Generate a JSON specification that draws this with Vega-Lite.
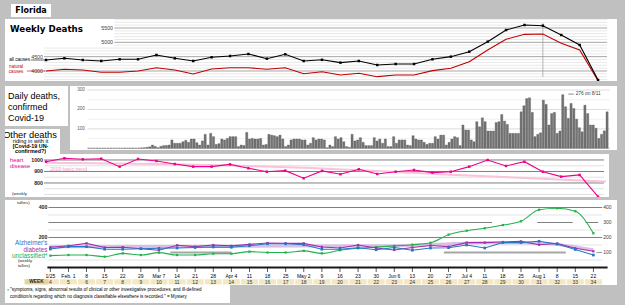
{
"$schema":"https://vega.github.io/schema/vega-lite/v6.json",
"background":"#c0c0c0",
"padding":{"left":5,"top":4,"right":8,"bottom":2},
"spacing":0,
"config":{"view":{"stroke":null},"font":"Liberation Sans"},
"datasets":{
"weekly":[
{"date":"2020-01-25","week":4,"label":"1/25","all":4384,"natural":4000,"heart":985,"alz":123,"diab":135,"uncl":79},
{"date":"2020-02-01","week":5,"label":"Feb. 1","all":4442,"natural":4059,"heart":1015,"alz":139,"diab":145,"uncl":83},
{"date":"2020-02-08","week":6,"label":"8","all":4384,"natural":4035,"heart":1006,"alz":139,"diab":161,"uncl":83},
{"date":"2020-02-15","week":7,"label":"15","all":4349,"natural":3955,"heart":1011,"alz":122,"diab":133,"uncl":72},
{"date":"2020-02-22","week":8,"label":"22","all":4408,"natural":3955,"heart":942,"alz":122,"diab":135,"uncl":94},
{"date":"2020-02-29","week":9,"label":"29","all":4408,"natural":4000,"heart":1009,"alz":125,"diab":125,"uncl":83},
{"date":"2020-03-07","week":10,"label":"Mar 7","all":4558,"natural":4115,"heart":991,"alz":128,"diab":115,"uncl":99},
{"date":"2020-03-14","week":11,"label":"14","all":4442,"natural":4035,"heart":965,"alz":130,"diab":148,"uncl":83},
{"date":"2020-03-21","week":12,"label":"21","all":4349,"natural":3895,"heart":942,"alz":133,"diab":139,"uncl":83},
{"date":"2020-03-28","week":13,"label":"28","all":4478,"natural":4070,"heart":942,"alz":137,"diab":150,"uncl":92},
{"date":"2020-04-04","week":14,"label":"Apr 4","all":4523,"natural":4115,"heart":962,"alz":135,"diab":144,"uncl":92},
{"date":"2020-04-11","week":15,"label":"11","all":4593,"natural":4115,"heart":928,"alz":145,"diab":154,"uncl":106},
{"date":"2020-04-18","week":16,"label":"18","all":4430,"natural":4059,"heart":898,"alz":158,"diab":163,"uncl":100},
{"date":"2020-04-25","week":17,"label":"25","all":4582,"natural":4115,"heart":907,"alz":158,"diab":161,"uncl":100},
{"date":"2020-05-02","week":18,"label":"May 2","all":4349,"natural":3905,"heart":841,"alz":152,"diab":161,"uncl":111},
{"date":"2020-05-09","week":19,"label":"9","all":4390,"natural":3976,"heart":905,"alz":122,"diab":137,"uncl":94},
{"date":"2020-05-16","week":20,"label":"16","all":4291,"natural":3860,"heart":876,"alz":122,"diab":130,"uncl":115},
{"date":"2020-05-23","week":21,"label":"23","all":4349,"natural":3919,"heart":919,"alz":132,"diab":150,"uncl":128},
{"date":"2020-05-30","week":22,"label":"30","all":4209,"natural":3802,"heart":878,"alz":118,"diab":130,"uncl":136},
{"date":"2020-06-06","week":23,"label":"Jun 6","all":4244,"natural":3860,"heart":898,"alz":133,"diab":117,"uncl":144},
{"date":"2020-06-13","week":24,"label":"13","all":4244,"natural":3860,"heart":913,"alz":115,"diab":133,"uncl":152},
{"date":"2020-06-20","week":25,"label":"20","all":4408,"natural":4012,"heart":890,"alz":130,"diab":147,"uncl":165},
{"date":"2020-06-27","week":26,"label":"27","all":4500,"natural":4093,"heart":898,"alz":132,"diab":139,"uncl":219},
{"date":"2020-07-04","week":27,"label":"Jul 4","all":4674,"natural":4326,"heart":942,"alz":150,"diab":166,"uncl":245},
{"date":"2020-07-11","week":28,"label":"11","all":5023,"natural":4732,"heart":1000,"alz":130,"diab":166,"uncl":262},
{"date":"2020-07-18","week":29,"label":"18","all":5430,"natural":5105,"heart":948,"alz":166,"diab":170,"uncl":283},
{"date":"2020-07-25","week":30,"label":"25","all":5605,"natural":5279,"heart":985,"alz":166,"diab":174,"uncl":308},
{"date":"2020-08-01","week":31,"label":"Aug 1","all":5581,"natural":5291,"heart":898,"alz":175,"diab":152,"uncl":385},
{"date":"2020-08-08","week":32,"label":"8","all":5256,"natural":4965,"heart":855,"alz":156,"diab":160,"uncl":395},
{"date":"2020-08-15","week":33,"label":"15","all":4907,"natural":4732,"heart":870,"alz":120,"diab":128,"uncl":375},
{"date":"2020-08-22","week":34,"label":"22","all":3686,"natural":3660,"heart":681,"alz":83,"diab":108,"uncl":228}
],
"heartTrend":[
{"date":"2020-01-25","v":975},{"date":"2020-03-07","v":965},{"date":"2020-05-02","v":932},{"date":"2020-06-27","v":872},{"date":"2020-08-25","v":812}
],
"diabTrend":[
{"date":"2020-01-25","v":138},{"date":"2020-04-04","v":142},{"date":"2020-06-06","v":145},{"date":"2020-07-11","v":165},{"date":"2020-08-01","v":162},{"date":"2020-08-22","v":118}
],
"daily":[
{"date":"2020-02-22","deaths":0},{"date":"2020-02-23","deaths":0},{"date":"2020-02-24","deaths":0},{"date":"2020-02-25","deaths":0},{"date":"2020-02-26","deaths":0},{"date":"2020-02-27","deaths":0},{"date":"2020-02-28","deaths":0},{"date":"2020-02-29","deaths":0},
{"date":"2020-03-01","deaths":0},{"date":"2020-03-02","deaths":0},{"date":"2020-03-03","deaths":0},{"date":"2020-03-04","deaths":0},{"date":"2020-03-05","deaths":0},{"date":"2020-03-06","deaths":1},{"date":"2020-03-07","deaths":0},{"date":"2020-03-08","deaths":1},{"date":"2020-03-09","deaths":1},{"date":"2020-03-10","deaths":0},{"date":"2020-03-11","deaths":1},{"date":"2020-03-12","deaths":2},{"date":"2020-03-13","deaths":3},{"date":"2020-03-14","deaths":5},{"date":"2020-03-15","deaths":8},{"date":"2020-03-16","deaths":17},{"date":"2020-03-17","deaths":10},{"date":"2020-03-18","deaths":3},{"date":"2020-03-19","deaths":10},{"date":"2020-03-20","deaths":14},{"date":"2020-03-21","deaths":15},{"date":"2020-03-22","deaths":17},{"date":"2020-03-23","deaths":43},{"date":"2020-03-24","deaths":26},{"date":"2020-03-25","deaths":26},{"date":"2020-03-26","deaths":26},{"date":"2020-03-27","deaths":34},{"date":"2020-03-28","deaths":41},{"date":"2020-03-29","deaths":31},{"date":"2020-03-30","deaths":48},{"date":"2020-03-31","deaths":48},
{"date":"2020-04-01","deaths":29},{"date":"2020-04-02","deaths":17},{"date":"2020-04-03","deaths":38},{"date":"2020-04-04","deaths":72},{"date":"2020-04-05","deaths":17},{"date":"2020-04-06","deaths":77},{"date":"2020-04-07","deaths":60},{"date":"2020-04-08","deaths":20},{"date":"2020-04-09","deaths":24},{"date":"2020-04-10","deaths":48},{"date":"2020-04-11","deaths":43},{"date":"2020-04-12","deaths":51},{"date":"2020-04-13","deaths":60},{"date":"2020-04-14","deaths":60},{"date":"2020-04-15","deaths":60},{"date":"2020-04-16","deaths":9},{"date":"2020-04-17","deaths":17},{"date":"2020-04-18","deaths":14},{"date":"2020-04-19","deaths":82},{"date":"2020-04-20","deaths":48},{"date":"2020-04-21","deaths":51},{"date":"2020-04-22","deaths":48},{"date":"2020-04-23","deaths":48},{"date":"2020-04-24","deaths":51},{"date":"2020-04-25","deaths":17},{"date":"2020-04-26","deaths":20},{"date":"2020-04-27","deaths":72},{"date":"2020-04-28","deaths":68},{"date":"2020-04-29","deaths":65},{"date":"2020-04-30","deaths":60},
{"date":"2020-05-01","deaths":68},{"date":"2020-05-02","deaths":48},{"date":"2020-05-03","deaths":9},{"date":"2020-05-04","deaths":17},{"date":"2020-05-05","deaths":43},{"date":"2020-05-06","deaths":48},{"date":"2020-05-07","deaths":48},{"date":"2020-05-08","deaths":48},{"date":"2020-05-09","deaths":43},{"date":"2020-05-10","deaths":43},{"date":"2020-05-11","deaths":17},{"date":"2020-05-12","deaths":26},{"date":"2020-05-13","deaths":55},{"date":"2020-05-14","deaths":43},{"date":"2020-05-15","deaths":48},{"date":"2020-05-16","deaths":48},{"date":"2020-05-17","deaths":43},{"date":"2020-05-18","deaths":3},{"date":"2020-05-19","deaths":17},{"date":"2020-05-20","deaths":9},{"date":"2020-05-21","deaths":60},{"date":"2020-05-22","deaths":48},{"date":"2020-05-23","deaths":55},{"date":"2020-05-24","deaths":34},{"date":"2020-05-25","deaths":9},{"date":"2020-05-26","deaths":5},{"date":"2020-05-27","deaths":72},{"date":"2020-05-28","deaths":38},{"date":"2020-05-29","deaths":43},{"date":"2020-05-30","deaths":55},{"date":"2020-05-31","deaths":31},
{"date":"2020-06-01","deaths":14},{"date":"2020-06-02","deaths":14},{"date":"2020-06-03","deaths":14},{"date":"2020-06-04","deaths":55},{"date":"2020-06-05","deaths":38},{"date":"2020-06-06","deaths":48},{"date":"2020-06-07","deaths":26},{"date":"2020-06-08","deaths":48},{"date":"2020-06-09","deaths":9},{"date":"2020-06-10","deaths":9},{"date":"2020-06-11","deaths":60},{"date":"2020-06-12","deaths":26},{"date":"2020-06-13","deaths":43},{"date":"2020-06-14","deaths":43},{"date":"2020-06-15","deaths":43},{"date":"2020-06-16","deaths":17},{"date":"2020-06-17","deaths":14},{"date":"2020-06-18","deaths":65},{"date":"2020-06-19","deaths":48},{"date":"2020-06-20","deaths":43},{"date":"2020-06-21","deaths":43},{"date":"2020-06-22","deaths":31},{"date":"2020-06-23","deaths":20},{"date":"2020-06-24","deaths":26},{"date":"2020-06-25","deaths":26},{"date":"2020-06-26","deaths":60},{"date":"2020-06-27","deaths":48},{"date":"2020-06-28","deaths":68},{"date":"2020-06-29","deaths":68},{"date":"2020-06-30","deaths":17},
{"date":"2020-07-01","deaths":31},{"date":"2020-07-02","deaths":48},{"date":"2020-07-03","deaths":60},{"date":"2020-07-04","deaths":55},{"date":"2020-07-05","deaths":14},{"date":"2020-07-06","deaths":120},{"date":"2020-07-07","deaths":94},{"date":"2020-07-08","deaths":94},{"date":"2020-07-09","deaths":43},{"date":"2020-07-10","deaths":34},{"date":"2020-07-11","deaths":137},{"date":"2020-07-12","deaths":111},{"date":"2020-07-13","deaths":157},{"date":"2020-07-14","deaths":137},{"date":"2020-07-15","deaths":89},{"date":"2020-07-16","deaths":89},{"date":"2020-07-17","deaths":89},{"date":"2020-07-18","deaths":133},{"date":"2020-07-19","deaths":137},{"date":"2020-07-20","deaths":174},{"date":"2020-07-21","deaths":140},{"date":"2020-07-22","deaths":123},{"date":"2020-07-23","deaths":77},{"date":"2020-07-24","deaths":77},{"date":"2020-07-25","deaths":77},{"date":"2020-07-26","deaths":77},{"date":"2020-07-27","deaths":188},{"date":"2020-07-28","deaths":219},{"date":"2020-07-29","deaths":256},{"date":"2020-07-30","deaths":260},{"date":"2020-07-31","deaths":185},
{"date":"2020-08-01","deaths":60},{"date":"2020-08-02","deaths":72},{"date":"2020-08-03","deaths":80},{"date":"2020-08-04","deaths":248},{"date":"2020-08-05","deaths":226},{"date":"2020-08-06","deaths":120},{"date":"2020-08-07","deaths":179},{"date":"2020-08-08","deaths":185},{"date":"2020-08-09","deaths":77},{"date":"2020-08-10","deaths":89},{"date":"2020-08-11","deaths":276},{"date":"2020-08-12","deaths":214},{"date":"2020-08-13","deaths":154},{"date":"2020-08-14","deaths":231},{"date":"2020-08-15","deaths":205},{"date":"2020-08-16","deaths":150},{"date":"2020-08-17","deaths":106},{"date":"2020-08-18","deaths":85},{"date":"2020-08-19","deaths":222},{"date":"2020-08-20","deaths":179},{"date":"2020-08-21","deaths":120},{"date":"2020-08-22","deaths":120},{"date":"2020-08-23","deaths":103},{"date":"2020-08-24","deaths":51},{"date":"2020-08-25","deaths":72},{"date":"2020-08-26","deaths":90},{"date":"2020-08-27","deaths":188}
]
},
"vconcat":[
{"hconcat":[
 {"width":6,"height":13,"data":{"values":[]},"mark":{"type":"rect"},"encoding":{}},
 {"width":40,"height":13,"view":{"fill":"white"},"data":{"values":[{}]},"mark":{"type":"text","text":"Florida","font":"DejaVu Sans","fontWeight":"bold","fontSize":8,"color":"black","align":"center","baseline":"middle","clip":true},"encoding":{}}
],"spacing":0},
{"width":1,"height":2,"data":{"values":[]},"mark":{"type":"rect"},"encoding":{}},
{"width":612,"height":62,"view":{"fill":"white"},"layer":[
 {"data":{"values":[{"v":3700},{"v":3800},{"v":3900},{"v":4100},{"v":4200},{"v":4300},{"v":4400},{"v":4600},{"v":4700},{"v":4800}]},"mark":{"type":"rule","color":"#e2e2e2","strokeWidth":0.8},
  "encoding":{"x":{"datum":{"year":2020,"month":1,"date":24,"hours":6,"utc":true},"type":"temporal","scale":{"type":"utc","nice":false,"domain":[{"year":2020,"month":1,"date":9,"hours":9,"minutes":36,"utc":true},{"year":2020,"month":8,"date":29,"hours":4,"minutes":48,"utc":true}]},"axis":null},
  "x2":{"datum":{"year":2020,"month":8,"date":25,"hours":10,"utc":true}},
  "y":{"field":"v","type":"quantitative","scale":{"domain":[3651,5814],"nice":false,"zero":false},"axis":null}}},
 {"data":{"values":[{"v":4900},{"v":5100},{"v":5200},{"v":5300},{"v":5400},{"v":5600},{"v":5700},{"v":5800}]},"mark":{"type":"rule","color":"#e2e2e2","strokeWidth":0.8},
  "encoding":{"x":{"datum":{"year":2020,"month":2,"date":20,"utc":true},"type":"temporal","axis":null},"x2":{"datum":{"year":2020,"month":8,"date":25,"hours":10,"utc":true}},"y":{"field":"v","type":"quantitative","axis":null}}},
 {"data":{"values":[{"v":4000},{"v":4500}]},"mark":{"type":"rule","color":"#a6a6a6","strokeWidth":1},
  "encoding":{"x":{"datum":{"year":2020,"month":1,"date":24,"hours":6,"utc":true},"type":"temporal","axis":null},"x2":{"datum":{"year":2020,"month":8,"date":25,"hours":10,"utc":true}},"y":{"field":"v","type":"quantitative","axis":null}}},
 {"data":{"values":[{"v":5000},{"v":5500}]},"mark":{"type":"rule","color":"#a6a6a6","strokeWidth":1},
  "encoding":{"x":{"datum":{"year":2020,"month":2,"date":20,"utc":true},"type":"temporal","axis":null},"x2":{"datum":{"year":2020,"month":8,"date":25,"hours":10,"utc":true}},"y":{"field":"v","type":"quantitative","axis":null}}},
 {"data":{"values":[{}]},"mark":{"type":"rule","color":"#8c8c8c","strokeWidth":0.6},
  "encoding":{"x":{"datum":{"year":2020,"month":8,"date":1,"utc":true},"type":"temporal","axis":null},"y":{"datum":5674,"type":"quantitative","axis":null},"y2":{"datum":3791}}},
 {"data":{"name":"weekly"},"mark":{"type":"line","color":"#c00000","strokeWidth":1.1,"clip":true},
  "encoding":{"x":{"field":"date","type":"temporal","axis":null},"y":{"field":"natural","type":"quantitative","axis":null}}},
 {"data":{"name":"weekly"},"mark":{"type":"line","color":"#000000","strokeWidth":1.1,"clip":true,"point":{"filled":true,"size":6,"shape":"square","color":"#000000","clip":true}},
  "encoding":{"x":{"field":"date","type":"temporal","axis":null},"y":{"field":"all","type":"quantitative","axis":null}}},
 {"data":{"values":[{}]},"mark":{"type":"text","text":"Weekly Deaths","font":"DejaVu Sans","fontWeight":"bold","fontSize":8.7,"align":"left","baseline":"middle","color":"black"},
  "encoding":{"x":{"datum":{"year":2020,"month":1,"date":11,"hours":7,"utc":true},"type":"temporal","axis":null},"y":{"datum":5465,"type":"quantitative","axis":null}}},
 {"data":{"values":[{"v":5000},{"v":5500}]},"mark":{"type":"text","fontSize":5.3,"align":"right","baseline":"middle","color":"#404040"},
  "encoding":{"x":{"datum":{"year":2020,"month":2,"date":19,"hours":12,"utc":true},"type":"temporal","axis":null},"y":{"field":"v","type":"quantitative","axis":null},"text":{"field":"v","format":"d"}}},
 {"data":{"values":[{"v":4000},{"v":4500}]},"mark":{"type":"text","fontSize":5.3,"align":"right","baseline":"middle","color":"#404040"},
  "encoding":{"x":{"datum":{"year":2020,"month":1,"date":23,"hours":20,"minutes":37,"utc":true},"type":"temporal","axis":null},"y":{"field":"v","type":"quantitative","axis":null},"text":{"field":"v","format":"d"}}},
 {"data":{"values":[{}]},"mark":{"type":"text","text":"all causes","fontSize":4.7,"align":"right","baseline":"middle","color":"black"},
  "encoding":{"x":{"datum":{"year":2020,"month":1,"date":18,"hours":22,"utc":true},"type":"temporal","axis":null},"y":{"datum":4384,"type":"quantitative","axis":null}}},
 {"data":{"values":[{}]},"mark":{"type":"rule","color":"black","strokeWidth":0.6},
  "encoding":{"x":{"datum":{"year":2020,"month":1,"date":19,"hours":7,"utc":true},"type":"temporal","axis":null},"x2":{"datum":{"year":2020,"month":1,"date":24,"hours":15,"utc":true}},"y":{"datum":4384,"type":"quantitative","axis":null}}},
 {"data":{"values":[{}]},"mark":{"type":"text","text":["natural","causes"],"fontSize":4.5,"lineHeight":4.6,"align":"center","baseline":"middle","color":"#c00000"},
  "encoding":{"x":{"datum":{"year":2020,"month":1,"date":13,"hours":14,"utc":true},"type":"temporal","axis":null},"y":{"datum":4140,"type":"quantitative","axis":null}}},
 {"data":{"values":[{}]},"mark":{"type":"rule","color":"#c00000","strokeWidth":0.6},
  "encoding":{"x":{"datum":{"year":2020,"month":1,"date":17,"hours":18,"utc":true},"type":"temporal","axis":null},"x2":{"datum":{"year":2020,"month":1,"date":24,"hours":15,"utc":true}},"y":{"datum":4000,"type":"quantitative","axis":null}}}
]},
{"width":1,"height":5,"data":{"values":[]},"mark":{"type":"rect"},"encoding":{}},
{"hconcat":[
 {"vconcat":[
  {"width":63,"height":40,"view":{"fill":"white"},"data":{"values":[{}]},"mark":{"type":"text","text":["Daily deaths,","confirmed","Covid-19"],"fontSize":9,"lineHeight":11,"align":"left","baseline":"middle","dx":-28.5,"dy":-10.5,"color":"black","clip":true},"encoding":{}},
  {"width":55,"height":25,"view":{"fill":"white"},"data":{"values":[{}]},"layer":[
   {"mark":{"type":"text","text":"Other deaths","fontSize":9.3,"align":"center","baseline":"middle","dx":-2.5,"dy":-7,"color":"black","clip":true},"encoding":{}},
   {"mark":{"type":"text","text":"riding in with it","fontSize":5.6,"align":"center","baseline":"middle","dx":-2,"dy":-0.5,"color":"black","clip":true},"encoding":{}},
   {"mark":{"type":"text","text":["[Covid-19 UN-","confirmed?)"],"fontSize":5.4,"lineHeight":5,"fontWeight":"bold","align":"center","baseline":"middle","dx":-2,"dy":4.8,"color":"black","clip":true},"encoding":{}}
  ]}
 ],"spacing":3},
 {"width":547,"height":64,"view":{"fill":"white"},"layer":[
  {"data":{"values":[{"v":50},{"v":150},{"v":250}]},"mark":{"type":"rule","color":"#eeeeee","strokeWidth":0.8},
   "encoding":{"x":{"datum":{"year":2020,"month":2,"date":21,"hours":12,"utc":true},"type":"temporal","scale":{"type":"utc","nice":false,"domain":[{"year":2020,"month":2,"date":17,"hours":1,"utc":true},{"year":2020,"month":8,"date":28,"hours":18,"minutes":30,"utc":true}]},"axis":null},
   "x2":{"datum":{"year":2020,"month":8,"date":28,"utc":true}},
   "y":{"field":"v","type":"quantitative","scale":{"domain":[-8.7,320.6],"nice":false,"zero":false},"axis":null}}},
  {"data":{"values":[{"v":100},{"v":200},{"v":300}]},"mark":{"type":"rule","color":"#d9d9d9","strokeWidth":0.9},
   "encoding":{"x":{"datum":{"year":2020,"month":2,"date":21,"hours":12,"utc":true},"type":"temporal","axis":null},"x2":{"datum":{"year":2020,"month":8,"date":28,"utc":true}},"y":{"field":"v","type":"quantitative","axis":null}}},
  {"data":{"values":[{}]},"mark":{"type":"rule","color":"#bfbfbf","strokeWidth":0.8},
   "encoding":{"x":{"datum":{"year":2020,"month":2,"date":21,"hours":12,"utc":true},"type":"temporal","axis":null},"x2":{"datum":{"year":2020,"month":8,"date":28,"utc":true}},"y":{"datum":0,"type":"quantitative","axis":null}}},
  {"data":{"name":"daily"},"mark":{"type":"bar","color":"#737373","stroke":"#4d4d4d","strokeWidth":0.3,"size":2.2},
   "encoding":{"x":{"field":"date","type":"temporal","axis":null},"y":{"field":"deaths","type":"quantitative","axis":null},"y2":{"datum":0}}},
  {"data":{"values":[{"v":100},{"v":200},{"v":300}]},"mark":{"type":"text","fontSize":4.6,"align":"right","baseline":"middle","color":"#595959"},
   "encoding":{"x":{"datum":{"year":2020,"month":2,"date":20,"hours":14,"utc":true},"type":"temporal","axis":null},"y":{"field":"v","type":"quantitative","axis":null},"text":{"field":"v","format":"d"}}},
  {"data":{"values":[{}]},"mark":{"type":"rule","color":"#404040","strokeWidth":0.6},
   "encoding":{"x":{"datum":{"year":2020,"month":8,"date":13,"utc":true},"type":"temporal","axis":null},"x2":{"datum":{"year":2020,"month":8,"date":14,"hours":23,"utc":true}},"y":{"datum":279,"type":"quantitative","axis":null}}},
  {"data":{"values":[{}]},"mark":{"type":"text","text":"276 on 8/11","fontSize":4.8,"align":"left","baseline":"middle","color":"#404040"},
   "encoding":{"x":{"datum":{"year":2020,"month":8,"date":15,"hours":16,"utc":true},"type":"temporal","axis":null},"y":{"datum":279,"type":"quantitative","axis":null}}}
 ]}
],"spacing":2},
{"width":604,"height":43,"view":{"fill":"white"},"layer":[
 {"data":{"values":[{"v":700},{"v":750},{"v":850},{"v":950}]},"mark":{"type":"rule","color":"#d9d9d9","strokeWidth":0.8},
  "encoding":{"x":{"datum":{"year":2020,"month":1,"date":24,"hours":6,"utc":true},"type":"temporal","scale":{"type":"utc","nice":false,"domain":[{"year":2020,"month":1,"date":9,"hours":9,"minutes":36,"utc":true},{"year":2020,"month":8,"date":26,"hours":4,"minutes":18,"utc":true}]},"axis":null},
  "x2":{"datum":{"year":2020,"month":8,"date":24,"hours":7,"utc":true}},
  "y":{"field":"v","type":"quantitative","scale":{"domain":[678,1052],"nice":false,"zero":false},"axis":null}}},
 {"data":{"values":[{"v":800},{"v":900},{"v":1000}]},"mark":{"type":"rule","color":"#7f7f7f","strokeWidth":1},
  "encoding":{"x":{"datum":{"year":2020,"month":1,"date":24,"hours":6,"utc":true},"type":"temporal","axis":null},"x2":{"datum":{"year":2020,"month":8,"date":24,"hours":7,"utc":true}},"y":{"field":"v","type":"quantitative","axis":null}}},
 {"data":{"name":"heartTrend"},"mark":{"type":"line","color":"#fbc2da","strokeWidth":2,"interpolate":"monotone","clip":true},
  "encoding":{"x":{"field":"date","type":"temporal","axis":null},"y":{"field":"v","type":"quantitative","axis":null}}},
 {"data":{"name":"weekly"},"mark":{"type":"line","color":"#ec008c","strokeWidth":1.1,"clip":true,"point":{"filled":true,"size":6,"shape":"square","color":"#ec008c","clip":true}},
  "encoding":{"x":{"field":"date","type":"temporal","axis":null},"y":{"field":"heart","type":"quantitative","axis":null}}},
 {"data":{"values":[{"v":800},{"v":900},{"v":1000}]},"mark":{"type":"text","fontSize":5.3,"fontWeight":"bold","align":"right","baseline":"middle","color":"#262626"},
  "encoding":{"x":{"datum":{"year":2020,"month":1,"date":23,"hours":20,"minutes":37,"utc":true},"type":"temporal","axis":null},"y":{"field":"v","type":"quantitative","axis":null},"text":{"field":"v","format":"d"}}},
 {"data":{"values":[{}]},"mark":{"type":"text","text":["heart","disease"],"fontSize":5.9,"lineHeight":6,"align":"left","baseline":"middle","color":"#ec008c"},
  "encoding":{"x":{"datum":{"year":2020,"month":1,"date":11,"hours":7,"utc":true},"type":"temporal","axis":null},"y":{"datum":1000,"type":"quantitative","axis":null}}},
 {"data":{"values":[{}]},"mark":{"type":"text","text":"2019 basic trend","fontSize":5,"align":"left","baseline":"middle","color":"#f49ac1"},
  "encoding":{"x":{"datum":{"year":2020,"month":1,"date":26,"hours":12,"utc":true},"type":"temporal","axis":null},"y":{"datum":922,"type":"quantitative","axis":null}}},
 {"data":{"values":[{}]},"mark":{"type":"text","text":"(weekly","fontSize":4.4,"align":"left","baseline":"middle","color":"#262626","clip":true},
  "encoding":{"x":{"datum":{"year":2020,"month":1,"date":12,"hours":2,"utc":true},"type":"temporal","axis":null},"y":{"datum":702,"type":"quantitative","axis":null}}}
]},
{"width":1,"height":3,"data":{"values":[]},"mark":{"type":"rect"},"encoding":{}},
{"width":612,"height":85,"view":{"fill":"white"},"layer":[
 {"data":{"values":[{"v":50},{"v":150},{"v":250},{"v":350}]},"mark":{"type":"rule","color":"#dcdcdc","strokeWidth":0.8},
  "encoding":{"x":{"datum":{"year":2020,"month":1,"date":24,"hours":6,"utc":true},"type":"temporal","scale":{"type":"utc","nice":false,"domain":[{"year":2020,"month":1,"date":9,"hours":9,"minutes":36,"utc":true},{"year":2020,"month":8,"date":29,"hours":4,"minutes":48,"utc":true}]},"axis":null},
  "x2":{"datum":{"year":2020,"month":8,"date":25,"hours":10,"utc":true}},
  "y":{"field":"v","type":"quantitative","scale":{"domain":[-116.7,450],"nice":false,"zero":false},"axis":null}}},
 {"data":{"values":[{"v":200},{"v":400}]},"mark":{"type":"rule","color":"#7f7f7f","strokeWidth":1},
  "encoding":{"x":{"datum":{"year":2020,"month":1,"date":24,"hours":6,"utc":true},"type":"temporal","axis":null},"x2":{"datum":{"year":2020,"month":8,"date":25,"hours":10,"utc":true}},"y":{"field":"v","type":"quantitative","axis":null}}},
 {"data":{"values":[{}]},"mark":{"type":"rule","color":"#7f7f7f","strokeWidth":1},
  "encoding":{"x":{"datum":{"year":2020,"month":1,"date":24,"hours":6,"utc":true},"type":"temporal","axis":null},"x2":{"datum":{"year":2020,"month":7,"date":13,"hours":19,"utc":true}},"y":{"datum":300,"type":"quantitative","axis":null}}},
 {"data":{"values":[{}]},"mark":{"type":"rule","color":"#7f7f7f","strokeWidth":1},
  "encoding":{"x":{"datum":{"year":2020,"month":7,"date":31,"hours":7,"utc":true},"type":"temporal","axis":null},"x2":{"datum":{"year":2020,"month":8,"date":14,"utc":true}},"y":{"datum":300,"type":"quantitative","axis":null}}},
 {"data":{"values":[{}]},"mark":{"type":"rule","color":"#7f7f7f","strokeWidth":1},
  "encoding":{"x":{"datum":{"year":2020,"month":8,"date":18,"hours":23,"utc":true},"type":"temporal","axis":null},"x2":{"datum":{"year":2020,"month":8,"date":23,"hours":21,"utc":true}},"y":{"datum":300,"type":"quantitative","axis":null}}},
 {"data":{"values":[{}]},"mark":{"type":"rule","color":"#a6a6a6","strokeWidth":2.2},
  "encoding":{"x":{"datum":{"year":2020,"month":3,"date":11,"hours":10,"utc":true},"type":"temporal","axis":null},"x2":{"datum":{"year":2020,"month":4,"date":4,"utc":true}},"y":{"datum":100,"type":"quantitative","axis":null}}},
 {"data":{"values":[{}]},"mark":{"type":"rule","color":"#a6a6a6","strokeWidth":2.2},
  "encoding":{"x":{"datum":{"year":2020,"month":6,"date":25,"hours":4,"utc":true},"type":"temporal","axis":null},"x2":{"datum":{"year":2020,"month":8,"date":11,"hours":8,"utc":true}},"y":{"datum":100,"type":"quantitative","axis":null}}},
 {"data":{"values":[{}]},"mark":{"type":"rule","color":"#7f7f7f","strokeWidth":0.8},
  "encoding":{"x":{"datum":{"year":2020,"month":8,"date":23,"hours":5,"utc":true},"type":"temporal","axis":null},"x2":{"datum":{"year":2020,"month":8,"date":25,"hours":10,"utc":true}},"y":{"datum":100,"type":"quantitative","axis":null}}},
 {"data":{"name":"diabTrend"},"mark":{"type":"line","color":"#dcbde6","strokeWidth":3,"interpolate":"monotone"},
  "encoding":{"x":{"field":"date","type":"temporal","axis":null},"y":{"field":"v","type":"quantitative","axis":null}}},
 {"data":{"name":"weekly"},"mark":{"type":"line","color":"#22b14c","strokeWidth":1.1,"interpolate":"monotone","point":{"filled":true,"size":5,"shape":"square","color":"#22b14c"}},
  "encoding":{"x":{"field":"date","type":"temporal","axis":null},"y":{"field":"uncl","type":"quantitative","axis":null}}},
 {"data":{"name":"weekly"},"mark":{"type":"line","color":"#a22fa8","strokeWidth":1.1,"point":{"filled":true,"size":5,"shape":"square","color":"#a22fa8"}},
  "encoding":{"x":{"field":"date","type":"temporal","axis":null},"y":{"field":"diab","type":"quantitative","axis":null}}},
 {"data":{"name":"weekly"},"mark":{"type":"line","color":"#2676c6","strokeWidth":1.1,"point":{"filled":true,"size":7,"shape":"square","color":"#2676c6"}},
  "encoding":{"x":{"field":"date","type":"temporal","axis":null},"y":{"field":"alz","type":"quantitative","axis":null}}},
 {"data":{"name":"weekly"},"mark":{"type":"bar","color":"#f3e8c2","size":17},
  "encoding":{"x":{"field":"date","type":"temporal","axis":{
    "orient":"bottom","offset":-17.5,"domain":false,"grid":false,"title":null,"labels":false,
    "tickCount":{"interval":"day","step":1},
    "tickColor":"#000000","tickSize":2.5,"tickWidth":0.6,
    "tickOpacity":{"condition":{"test":"time(datum.value) < 1579824000000 || time(datum.value) > 1598529600000","value":0},"value":1}}},
   "y":{"datum":-78,"type":"quantitative","axis":null},"y2":{"datum":-113}}},
 {"data":{"values":[{}]},"mark":{"type":"rule","color":"#1a1a1a","strokeWidth":1.8},
  "encoding":{"x":{"datum":{"year":2020,"month":1,"date":23,"hours":20,"minutes":37,"utc":true},"type":"temporal","axis":null},"x2":{"datum":{"year":2020,"month":8,"date":27,"hours":12,"utc":true}},"y":{"datum":0,"type":"quantitative","axis":null}}},
 {"data":{"name":"weekly"},"mark":{"type":"tick","orient":"vertical","color":"#000000","thickness":0.9,"size":4.5},
  "encoding":{"x":{"field":"date","type":"temporal","axis":null},"y":{"datum":-15,"type":"quantitative","axis":null}}},
 {"data":{"name":"weekly"},"mark":{"type":"text","fontSize":5,"align":"center","baseline":"top","color":"#000000"},
  "encoding":{"x":{"field":"date","type":"temporal","axis":null},"y":{"datum":-42,"type":"quantitative","axis":null},"text":{"field":"label"}}},
 {"data":{"values":[{}]},"mark":{"type":"bar","color":"#e3d49a","size":24},
  "encoding":{"x":{"datum":{"year":2020,"month":1,"date":19,"hours":16,"utc":true},"type":"temporal","axis":null},"y":{"datum":-78,"type":"quantitative","axis":null},"y2":{"datum":-113}}},
 {"data":{"values":[{}]},"mark":{"type":"text","text":"WEEK","fontSize":4.8,"fontWeight":"bold","align":"center","baseline":"middle","color":"#262626"},
  "encoding":{"x":{"datum":{"year":2020,"month":1,"date":19,"hours":16,"utc":true},"type":"temporal","axis":null},"y":{"datum":-95.5,"type":"quantitative","axis":null}}},
 {"data":{"name":"weekly"},"mark":{"type":"text","fontSize":5,"align":"center","baseline":"middle","color":"#333333"},
  "encoding":{"x":{"field":"date","type":"temporal","axis":null},"y":{"datum":-95.5,"type":"quantitative","axis":null},"text":{"field":"week"}}},
 {"data":{"values":[{"v":100},{"v":200},{"v":300},{"v":400}]},"mark":{"type":"text","fontSize":5,"align":"left","baseline":"middle","color":"#404040"},
  "encoding":{"x":{"datum":{"year":2020,"month":8,"date":25,"hours":19,"utc":true},"type":"temporal","axis":null},"y":{"field":"v","type":"quantitative","axis":null},"text":{"field":"v","format":"d"}}},
 {"data":{"values":[{"v":200},{"v":400}]},"mark":{"type":"text","fontSize":5.2,"fontWeight":"bold","align":"right","baseline":"middle","color":"#262626"},
  "encoding":{"x":{"datum":{"year":2020,"month":1,"date":23,"hours":20,"minutes":37,"utc":true},"type":"temporal","axis":null},"y":{"field":"v","type":"quantitative","axis":null},"text":{"field":"v","format":"d"}}},
 {"data":{"values":[{}]},"mark":{"type":"text","text":"Alzheimer's","fontSize":6.3,"align":"right","baseline":"middle","color":"#2676c6"},
  "encoding":{"x":{"datum":{"year":2020,"month":1,"date":23,"hours":20,"minutes":37,"utc":true},"type":"temporal","axis":null},"y":{"datum":162,"type":"quantitative","axis":null}}},
 {"data":{"values":[{}]},"mark":{"type":"text","text":"diabetes","fontSize":6.3,"align":"right","baseline":"middle","color":"#a22fa8"},
  "encoding":{"x":{"datum":{"year":2020,"month":1,"date":23,"hours":20,"minutes":37,"utc":true},"type":"temporal","axis":null},"y":{"datum":119,"type":"quantitative","axis":null}}},
 {"data":{"values":[{}]},"mark":{"type":"text","text":"unclassified*","fontSize":6.3,"align":"right","baseline":"middle","color":"#22b14c"},
  "encoding":{"x":{"datum":{"year":2020,"month":1,"date":23,"hours":20,"minutes":37,"utc":true},"type":"temporal","axis":null},"y":{"datum":76,"type":"quantitative","axis":null}}},
 {"data":{"values":[{}]},"mark":{"type":"text","text":["(weekly","tallies)"],"fontSize":4.2,"lineHeight":4.2,"align":"left","baseline":"middle","color":"#262626"},
  "encoding":{"x":{"datum":{"year":2020,"month":1,"date":12,"hours":11,"utc":true},"type":"temporal","axis":null},"y":{"datum":40,"type":"quantitative","axis":null}}},
 {"data":{"values":[{}]},"mark":{"type":"text","text":"tallies)","fontSize":4.4,"align":"left","baseline":"middle","color":"#262626","clip":true},
  "encoding":{"x":{"datum":{"year":2020,"month":1,"date":12,"hours":2,"utc":true},"type":"temporal","axis":null},"y":{"datum":432,"type":"quantitative","axis":null}}}
]},
{"width":225,"height":18,"view":{"fill":"white"},"data":{"values":[{}]},"layer":[
 {"mark":{"type":"text","text":"*","fontSize":5.5,"color":"#22b14c","align":"left","baseline":"middle","dx":-110.5,"dy":-3.5,"clip":true},"encoding":{}},
 {"mark":{"type":"text","text":["\"symptoms, signs, abnormal results of clinical or other investigative procedures, and ill-defined","condition/s regarding which no diagnosis classifiable elsewhere is recorded.\" = Mystery"],"fontSize":4.6,"lineHeight":6.6,"align":"left","baseline":"middle","dx":-107.5,"dy":-4,"color":"black","clip":true},"encoding":{}}
]}
]
}
